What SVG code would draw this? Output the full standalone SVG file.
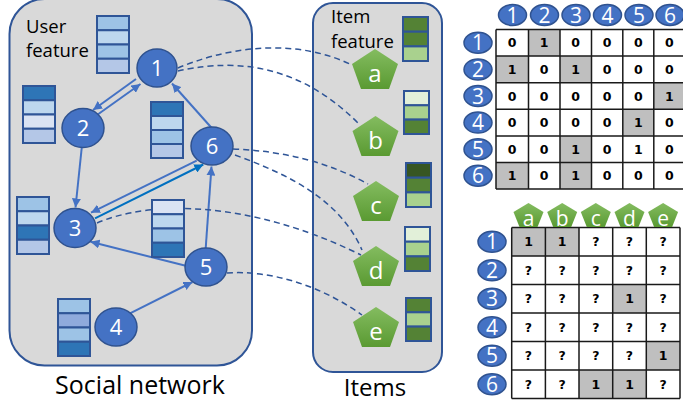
<svg xmlns="http://www.w3.org/2000/svg" width="683" height="404" viewBox="0 0 683 404">
<style>
.panel{fill:#D9D9D9;stroke:#2F5597;stroke-width:2}
.lbl{font-family:"Open Sans","Noto Sans",sans-serif;fill:#000}
.node{fill:#4472C4;stroke:#2F528F;stroke-width:1.5}
.ntxt{font-family:"Open Sans","Noto Sans",sans-serif;fill:#fff;text-anchor:middle}
.pent{fill:url(#gg)}
.cell{stroke:#2F5597;stroke-width:2}
.b1{fill:#9DC3E6}.b2{fill:#BDD7EE}.b3{fill:#2E75B6}.b4{fill:#B4C7E7}.b5{fill:#DAE3F3}.b6{fill:#8FAADC}
.g1{fill:#548235}.g2{fill:#A9D18E}.g3{fill:#E2F0D9}.g4{fill:#375623}
.edge{fill:none;stroke:#4472C4;stroke-width:2;marker-end:url(#ah)}
.edge2{fill:none;stroke:#0070C0;stroke-width:2;marker-end:url(#ah2)}
.dash{fill:none;stroke:#2F5597;stroke-width:1.5;stroke-dasharray:6 4}
.gray{fill:#BFBFBF}
.grid{fill:none;stroke:#1A1A1A;stroke-width:1.5}
.val{font-family:"DejaVu Sans",Verdana,sans-serif;font-weight:bold;font-size:12.5px;fill:#000;text-anchor:middle}
</style>
<defs>
<linearGradient id="gg" x1="0" y1="0" x2="0" y2="1"><stop offset="0" stop-color="#84BC60"/><stop offset="1" stop-color="#5A9A32"/></linearGradient>
<marker id="ah" viewBox="0 0 10 10" refX="10" refY="5" markerWidth="4.5" markerHeight="4.5" orient="auto"><path d="M0,0 L10,5 L0,10 z" fill="#4472C4"/></marker>
<marker id="ah2" viewBox="0 0 10 10" refX="10" refY="5" markerWidth="4.5" markerHeight="4.5" orient="auto"><path d="M0,0 L10,5 L0,10 z" fill="#0070C0"/></marker>
</defs>
<rect width="683" height="404" fill="#fff"/>
<g id="social-panel">
<rect class="panel" x="9.5" y="-1" width="242.5" height="366.5" rx="35"/>
<text class="lbl" x="140" y="394" font-size="25" text-anchor="middle">Social network</text>
<text class="lbl" x="26" y="33" font-size="18.5">User</text>
<text class="lbl" x="26" y="57" font-size="18.5">feature</text>
</g>
<g id="items-panel">
<rect class="panel" x="313" y="3" width="129" height="369" rx="20"/>
<text class="lbl" x="375" y="396" font-size="24" text-anchor="middle">Items</text>
<text class="lbl" x="331" y="23" font-size="18.5">Item</text>
<text class="lbl" x="331" y="48" font-size="18.5">feature</text>
</g>
<g id="connectors">
<path class="edge" d="M97,115 L140.5,84"/>
<path class="edge" d="M136,79 L93,110"/>
<path class="edge" d="M211.7,128 L172,83.5"/>
<path class="edge" d="M81.7,148 L75.5,207.5"/>
<path class="edge" d="M196.7,160.7 L91,212.7"/>
<path class="edge2" d="M95,218.3 L203.3,164.5"/>
<path class="edge" d="M205.7,248.3 L211.5,166.5"/>
<path class="edge" d="M186.7,266 L90.5,241.8"/>
<path class="edge" d="M130,313.3 L192.5,282"/>
<path class="dash" d="M178,68 C220,50 290,35 352,65"/>
<path class="dash" d="M178,71 C220,62 290,55 358,123"/>
<path class="dash" d="M233,149 Q310,152 368,184"/>
<path class="dash" d="M235,155 C290,175 340,200 362,250"/>
<path class="dash" d="M97,223 C150,200 250,200 361,255"/>
<path class="dash" d="M227,273 C270,270 320,285 362,315"/>
</g>
<g id="user-features">
<g id="uf1"><rect class="cell b1" x="97" y="16" width="32" height="14.25"/><rect class="cell b2" x="97" y="30.25" width="32" height="14.25"/><rect class="cell b1" x="97" y="44.5" width="32" height="14.25"/><rect class="cell b4" x="97" y="58.75" width="32" height="14.25"/></g>
<g id="uf2"><rect class="cell b3" x="23" y="86" width="32" height="14.25"/><rect class="cell b2" x="23" y="100.25" width="32" height="14.25"/><rect class="cell b5" x="23" y="114.5" width="32" height="14.25"/><rect class="cell b4" x="23" y="128.75" width="32" height="14.25"/></g>
<g id="uf6"><rect class="cell b3" x="151" y="102" width="32" height="14"/><rect class="cell b2" x="151" y="116" width="32" height="14"/><rect class="cell b1" x="151" y="130" width="32" height="14"/><rect class="cell b4" x="151" y="144" width="32" height="14"/></g>
<g id="uf3"><rect class="cell b1" x="17" y="197" width="32" height="14.25"/><rect class="cell b2" x="17" y="211.25" width="32" height="14.25"/><rect class="cell b3" x="17" y="225.5" width="32" height="14.25"/><rect class="cell b4" x="17" y="239.75" width="32" height="14.25"/></g>
<g id="uf5"><rect class="cell b5" x="152" y="200" width="32" height="14.25"/><rect class="cell b2" x="152" y="214.25" width="32" height="14.25"/><rect class="cell b1" x="152" y="228.5" width="32" height="14.25"/><rect class="cell b3" x="152" y="242.75" width="32" height="14.25"/></g>
<g id="uf4"><rect class="cell b1" x="58" y="299" width="32" height="14.25"/><rect class="cell b6" x="58" y="313.25" width="32" height="14.25"/><rect class="cell b1" x="58" y="327.5" width="32" height="14.25"/><rect class="cell b3" x="58" y="341.75" width="32" height="14.25"/></g>
</g>
<g id="item-features">
<g id="if-a"><rect class="cell g1" x="403" y="17" width="25" height="14.7"/><rect class="cell g1" x="403" y="31.7" width="25" height="14.7"/><rect class="cell g2" x="403" y="46.4" width="25" height="14.6"/></g>
<g id="if-b"><rect class="cell g3" x="404" y="91" width="25" height="14.3"/><rect class="cell g2" x="404" y="105.3" width="25" height="14.3"/><rect class="cell g1" x="404" y="119.6" width="25" height="14.4"/></g>
<g id="if-c"><rect class="cell g4" x="406" y="163" width="25" height="14.7"/><rect class="cell g1" x="406" y="177.7" width="25" height="14.7"/><rect class="cell g2" x="406" y="192.4" width="25" height="14.6"/></g>
<g id="if-d"><rect class="cell g3" x="405" y="227" width="25" height="14.7"/><rect class="cell g2" x="405" y="241.7" width="25" height="14.7"/><rect class="cell g1" x="405" y="256.4" width="25" height="14.6"/></g>
<g id="if-e"><rect class="cell g1" x="406" y="298" width="25" height="14.3"/><rect class="cell g2" x="406" y="312.3" width="25" height="14.3"/><rect class="cell g1" x="406" y="326.6" width="25" height="14.4"/></g>
</g>
<g id="node-1"><ellipse class="node" cx="157" cy="68" rx="20" ry="19"/><text class="ntxt" x="157" y="76" font-size="22">1</text></g>
<g id="node-2"><ellipse class="node" cx="83" cy="128" rx="21" ry="19.5"/><text class="ntxt" x="83" y="136" font-size="22">2</text></g>
<g id="node-3"><ellipse class="node" cx="75" cy="228" rx="21" ry="19.5"/><text class="ntxt" x="75" y="236" font-size="22">3</text></g>
<g id="node-4"><ellipse class="node" cx="116" cy="327" rx="21" ry="19"/><text class="ntxt" x="116" y="335" font-size="22">4</text></g>
<g id="node-5"><ellipse class="node" cx="206" cy="267" rx="21" ry="19"/><text class="ntxt" x="206" y="275" font-size="22">5</text></g>
<g id="node-6"><ellipse class="node" cx="212" cy="146" rx="21" ry="19"/><text class="ntxt" x="212" y="154" font-size="22">6</text></g>
<g id="item-a"><polygon class="pent" points="375,49 398,64 389,89 361,89 352,64"/><text class="ntxt" x="375" y="82" font-size="24">a</text></g>
<g id="item-b"><polygon class="pent" points="375.5,116 398.5,131 389.5,156 361.5,156 352.5,131"/><text class="ntxt" x="375.5" y="149" font-size="24">b</text></g>
<g id="item-c"><polygon class="pent" points="376,181 399,196 390,221 362,221 353,196"/><text class="ntxt" x="376" y="214" font-size="24">c</text></g>
<g id="item-d"><polygon class="pent" points="376,246 399,261 390,286 362,286 353,261"/><text class="ntxt" x="376" y="279" font-size="24">d</text></g>
<g id="item-e"><polygon class="pent" points="376,307 399,322 390,347 362,347 353,322"/><text class="ntxt" x="376" y="340" font-size="24">e</text></g>
<g id="social-matrix">
<rect class="gray" x="528.5" y="29.5" width="31.5" height="26.6"/>
<rect class="gray" x="496" y="56.1" width="32.5" height="26.6"/>
<rect class="gray" x="560" y="56.1" width="31.5" height="26.6"/>
<rect class="gray" x="653.8" y="82.7" width="31.2" height="26.6"/>
<rect class="gray" x="622.8" y="109.3" width="31" height="26.6"/>
<rect class="gray" x="560" y="135.9" width="31.5" height="26.6"/>
<rect class="gray" x="496" y="162.5" width="32.5" height="26.6"/>
<rect class="gray" x="560" y="162.5" width="31.5" height="26.6"/>
<path class="grid" d="M496,29.5 H685 M496,56.1 H685 M496,82.7 H685 M496,109.3 H685 M496,135.9 H685 M496,162.5 H685 M496,189.1 H685 M496,29.5 V189.1 M528.5,29.5 V189.1 M560,29.5 V189.1 M591.5,29.5 V189.1 M622.8,29.5 V189.1 M653.8,29.5 V189.1"/>
<g class="val">
<text x="512.2" y="47.3">0</text><text x="544.2" y="47.3">1</text><text x="575.7" y="47.3">0</text><text x="607.1" y="47.3">0</text><text x="638.3" y="47.3">0</text><text x="669.4" y="47.3">0</text>
<text x="512.2" y="73.9">1</text><text x="544.2" y="73.9">0</text><text x="575.7" y="73.9">1</text><text x="607.1" y="73.9">0</text><text x="638.3" y="73.9">0</text><text x="669.4" y="73.9">0</text>
<text x="512.2" y="100.5">0</text><text x="544.2" y="100.5">0</text><text x="575.7" y="100.5">0</text><text x="607.1" y="100.5">0</text><text x="638.3" y="100.5">0</text><text x="669.4" y="100.5">1</text>
<text x="512.2" y="127.1">0</text><text x="544.2" y="127.1">0</text><text x="575.7" y="127.1">0</text><text x="607.1" y="127.1">0</text><text x="638.3" y="127.1">1</text><text x="669.4" y="127.1">0</text>
<text x="512.2" y="153.7">0</text><text x="544.2" y="153.7">0</text><text x="575.7" y="153.7">1</text><text x="607.1" y="153.7">0</text><text x="638.3" y="153.7">1</text><text x="669.4" y="153.7">0</text>
<text x="512.2" y="180.3">1</text><text x="544.2" y="180.3">0</text><text x="575.7" y="180.3">1</text><text x="607.1" y="180.3">0</text><text x="638.3" y="180.3">0</text><text x="669.4" y="180.3">0</text>
</g>
<g id="sm-col-headers">
<ellipse class="node" cx="512.5" cy="15" rx="14" ry="10.5"/><text class="ntxt" x="512.5" y="22.5" font-size="21">1</text>
<ellipse class="node" cx="544.5" cy="15" rx="14" ry="10.5"/><text class="ntxt" x="544.5" y="22.5" font-size="21">2</text>
<ellipse class="node" cx="576" cy="15" rx="14" ry="10.5"/><text class="ntxt" x="576" y="22.5" font-size="21">3</text>
<ellipse class="node" cx="607.5" cy="15" rx="14" ry="10.5"/><text class="ntxt" x="607.5" y="22.5" font-size="21">4</text>
<ellipse class="node" cx="639" cy="15" rx="14" ry="10.5"/><text class="ntxt" x="639" y="22.5" font-size="21">5</text>
<ellipse class="node" cx="670" cy="15" rx="14" ry="10.5"/><text class="ntxt" x="670" y="22.5" font-size="21">6</text>
</g>
<g id="sm-row-headers">
<ellipse class="node" cx="478" cy="42.8" rx="14" ry="10.5"/><text class="ntxt" x="478" y="50.3" font-size="21">1</text>
<ellipse class="node" cx="478" cy="69.4" rx="14" ry="10.5"/><text class="ntxt" x="478" y="76.9" font-size="21">2</text>
<ellipse class="node" cx="478" cy="96" rx="14" ry="10.5"/><text class="ntxt" x="478" y="103.5" font-size="21">3</text>
<ellipse class="node" cx="478" cy="122.6" rx="14" ry="10.5"/><text class="ntxt" x="478" y="130.1" font-size="21">4</text>
<ellipse class="node" cx="478" cy="149.2" rx="14" ry="10.5"/><text class="ntxt" x="478" y="156.7" font-size="21">5</text>
<ellipse class="node" cx="478" cy="175.8" rx="14" ry="10.5"/><text class="ntxt" x="478" y="183.3" font-size="21">6</text>
</g>
</g>
<g id="rating-matrix">
<rect class="gray" x="511.7" y="227.5" width="33.7" height="28.5"/>
<rect class="gray" x="545.4" y="227.5" width="33.6" height="28.5"/>
<rect class="gray" x="612.7" y="284.5" width="33.6" height="28.5"/>
<rect class="gray" x="646.3" y="341.5" width="33.7" height="28.5"/>
<rect class="gray" x="579" y="370" width="33.7" height="28.5"/>
<rect class="gray" x="612.7" y="370" width="33.6" height="28.5"/>
<path class="grid" d="M511.7,227.5 H680 M511.7,256 H680 M511.7,284.5 H680 M511.7,313 H680 M511.7,341.5 H680 M511.7,370 H680 M511.7,398.5 H680 M511.7,227.5 V398.5 M545.4,227.5 V398.5 M579,227.5 V398.5 M612.7,227.5 V398.5 M646.3,227.5 V398.5 M680,227.5 V398.5"/>
<g class="val">
<text x="528.5" y="246.2">1</text><text x="562.2" y="246.2">1</text><text x="595.8" y="246.2">?</text><text x="629.5" y="246.2">?</text><text x="663.1" y="246.2">?</text>
<text x="528.5" y="274.7">?</text><text x="562.2" y="274.7">?</text><text x="595.8" y="274.7">?</text><text x="629.5" y="274.7">?</text><text x="663.1" y="274.7">?</text>
<text x="528.5" y="303.2">?</text><text x="562.2" y="303.2">?</text><text x="595.8" y="303.2">?</text><text x="629.5" y="303.2">1</text><text x="663.1" y="303.2">?</text>
<text x="528.5" y="331.7">?</text><text x="562.2" y="331.7">?</text><text x="595.8" y="331.7">?</text><text x="629.5" y="331.7">?</text><text x="663.1" y="331.7">?</text>
<text x="528.5" y="360.2">?</text><text x="562.2" y="360.2">?</text><text x="595.8" y="360.2">?</text><text x="629.5" y="360.2">?</text><text x="663.1" y="360.2">1</text>
<text x="528.5" y="388.7">?</text><text x="562.2" y="388.7">?</text><text x="595.8" y="388.7">1</text><text x="629.5" y="388.7">1</text><text x="663.1" y="388.7">?</text>
</g>
<g id="rm-col-headers">
<polygon class="pent" points="528.5,203 543.5,212 537.5,227 519.5,227 513.5,212"/><text class="ntxt" x="528.5" y="226" font-size="21">a</text>
<polygon class="pent" points="562.2,203 577.2,212 571.2,227 553.2,227 547.2,212"/><text class="ntxt" x="562.2" y="226" font-size="21">b</text>
<polygon class="pent" points="595.8,203 610.8,212 604.8,227 586.8,227 580.8,212"/><text class="ntxt" x="595.8" y="226" font-size="21">c</text>
<polygon class="pent" points="629.5,203 644.5,212 638.5,227 620.5,227 614.5,212"/><text class="ntxt" x="629.5" y="226" font-size="21">d</text>
<polygon class="pent" points="663.1,203 678.1,212 672.1,227 654.1,227 648.1,212"/><text class="ntxt" x="663.1" y="226" font-size="21">e</text>
</g>
<g id="rm-row-headers">
<ellipse class="node" cx="492" cy="241.7" rx="14" ry="10.5"/><text class="ntxt" x="492" y="249.2" font-size="21">1</text>
<ellipse class="node" cx="492" cy="270.2" rx="14" ry="10.5"/><text class="ntxt" x="492" y="277.7" font-size="21">2</text>
<ellipse class="node" cx="492" cy="298.7" rx="14" ry="10.5"/><text class="ntxt" x="492" y="306.2" font-size="21">3</text>
<ellipse class="node" cx="492" cy="327.2" rx="14" ry="10.5"/><text class="ntxt" x="492" y="334.7" font-size="21">4</text>
<ellipse class="node" cx="492" cy="355.7" rx="14" ry="10.5"/><text class="ntxt" x="492" y="363.2" font-size="21">5</text>
<ellipse class="node" cx="492" cy="384.2" rx="14" ry="10.5"/><text class="ntxt" x="492" y="391.7" font-size="21">6</text>
</g>
</g>
</svg>
